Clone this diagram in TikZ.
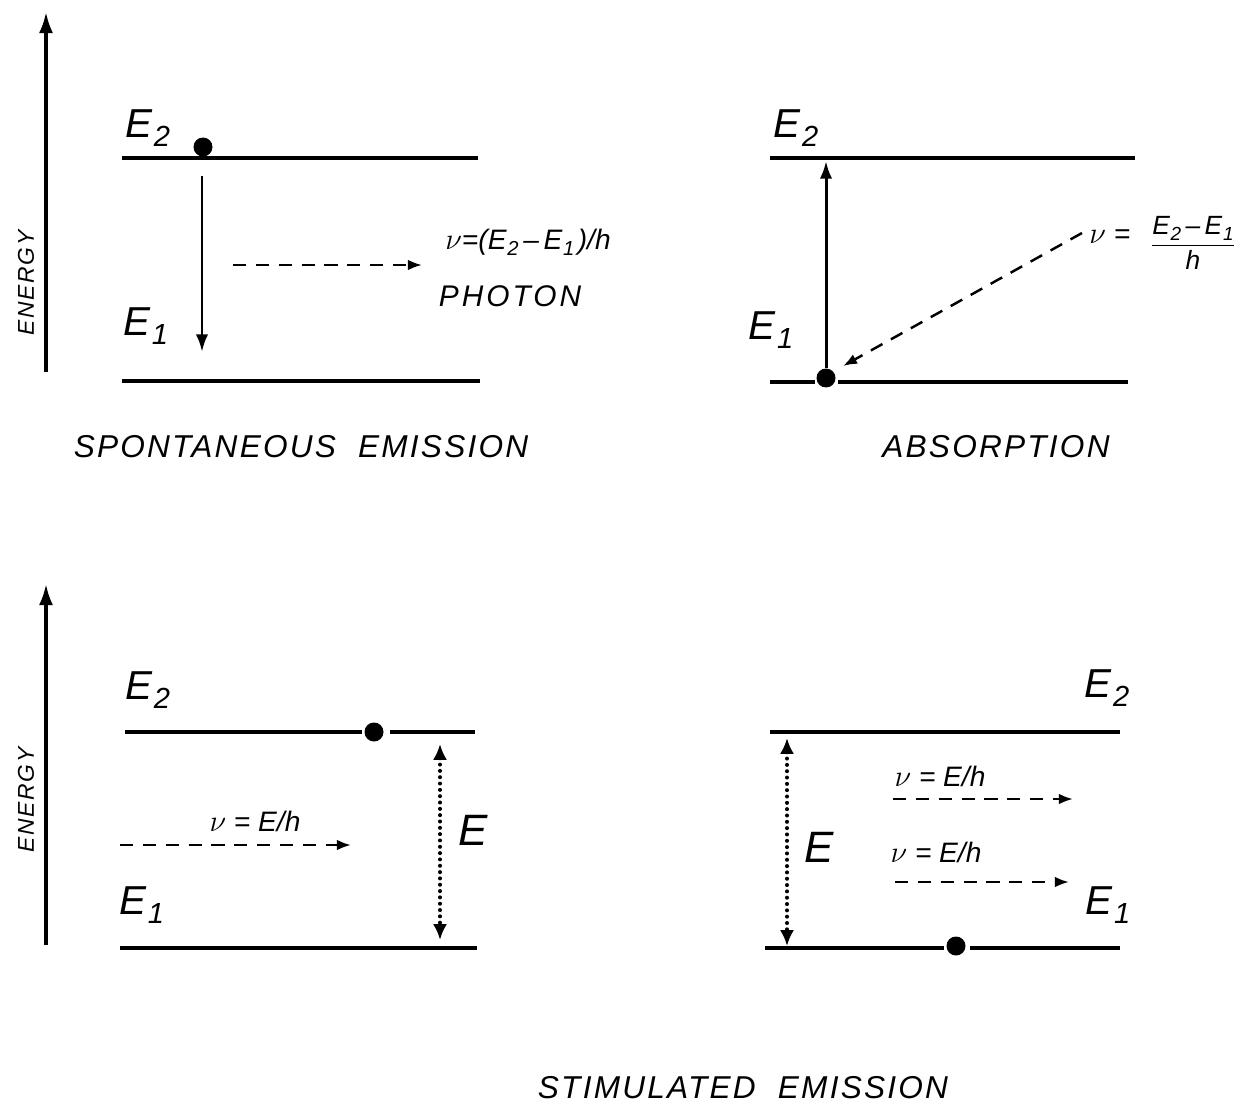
\documentclass[tikz,border=0pt]{standalone}
\usepackage{fontspec}
\setmainfont{Liberation Sans}
\usetikzlibrary{arrows.meta, positioning}

% level symbol with a lowered index
\newcommand{\elev}[1]{E\kern0.03em\raisebox{-0.4ex}{\scalebox{0.72}{#1}}}

\begin{document}
\begin{tikzpicture}[x=0.02cm, y=-0.02cm,
  level/.style={line width=1.9pt},
  axis/.style={line width=1.9pt, -{Latex[length=12pt,width=8pt]}},
  trans/.style={line width=1.7pt, -{Latex[length=10pt,width=7pt]}},
  photon/.style={line width=1.4pt, dash pattern=on 7.5pt off 5.5pt, -{Latex[length=8pt,width=6pt]}},
  gap/.style={line width=2.3pt, line cap=round, dash pattern=on 0pt off 3.6pt,
    {Latex[length=9pt,width=8pt]}-{Latex[length=9pt,width=8pt]}},
  electron/.style={circle, fill, inner sep=0pt, minimum size=0.38cm},
  lvlname/.style={font=\fontsize{23}{23}\selectfont\itshape, inner sep=0pt},
  gapname/.style={font=\fontsize{25}{25}\selectfont\itshape, inner sep=0pt},
  freq/.style={font=\fontsize{16}{16}\selectfont\itshape, inner sep=0pt},
  axisname/.style={font=\fontsize{13}{13}\selectfont\itshape\addfontfeatures{LetterSpace=8}, rotate=90, inner sep=0pt},
  caption/.style={font=\fontsize{18}{18}\selectfont\itshape\addfontfeatures{LetterSpace=7}, inner sep=0pt}]
  \useasboundingbox (0,0) rectangle (1251,1108);

  % Spontaneous emission
  \coordinate (se-axis0) at (46,372);
  \coordinate (se-axis1) at (46,12);
  \draw[axis] (se-axis0) -- (se-axis1);
  \node[axisname] (se-energy) at (26,283) {ENERGY};
  \draw[level] (122,158) -- (478,158);
  \draw[level] (122,381) -- (480,381);
  \node[lvlname] (se-e2) at (148,128) {\elev{2}};
  \node[lvlname] (se-e1) at (146,326) {\elev{1}};
  \node[electron] (se-atom) at (203,147) {};
  \coordinate (se-top) at (202,176);
  \coordinate (se-bot) at (202,352);
  \draw[trans] (se-top) -- (se-bot);
  \coordinate (se-ph0) at (233,265);
  \coordinate (se-ph1) at (422,265);
  \draw[photon] (se-ph0) -- (se-ph1);
  \node[freq] (se-nu) at (528,242) {$\nu$=(\elev{2}\,–\,\elev{1}\kern0.12em)/h};
  \node[freq, font=\fontsize{17}{17}\selectfont\itshape\addfontfeatures{LetterSpace=10}] (se-photon) at (510,296) {PHOTON};
  \node[caption] (se-caption) at (301,447) {SPONTANEOUS\hspace{0.35em} EMISSION};

  % Absorption
  \draw[level] (770,158) -- (1135,158);
  \draw[level] (770,382) -- (815,382);
  \draw[level] (838,382) -- (1128,382);
  \node[lvlname] (ab-e2) at (796,128) {\elev{2}};
  \node[lvlname] (ab-e1) at (771,330) {\elev{1}};
  \node[electron] (ab-atom) at (826,378) {};
  \coordinate (ab-top) at (826,161);
  \draw[trans] (ab-atom) -- (ab-top);
  \coordinate (ab-ph0) at (1082,233);
  \coordinate (ab-ph1) at (843,366);
  \draw[photon] (ab-ph0) -- (ab-ph1);
  \node[freq, anchor=west] (ab-nu) at (1089,237) {$\nu$ =};
  \node[freq, font=\fontsize{15}{15}\selectfont\itshape] (ab-frac) at (1193,243)
    {$\displaystyle\frac{\mbox{\elev{2}\,–\,\elev{1}}}{\mbox{\itshape h}}$};
  \node[caption] (ab-caption) at (996,447) {ABSORPTION};

  % Stimulated emission, before
  \coordinate (st-axis0) at (46,945);
  \coordinate (st-axis1) at (46,584);
  \draw[axis] (st-axis0) -- (st-axis1);
  \node[axisname] (st-energy) at (26,800) {ENERGY};
  \draw[level] (125,732) -- (362,732);
  \draw[level] (390,732) -- (475,732);
  \draw[level] (120,948) -- (477,948);
  \node[lvlname] (sa-e2) at (148,690) {\elev{2}};
  \node[lvlname] (sa-e1) at (142,905) {\elev{1}};
  \node[electron] (sa-atom) at (374,732) {};
  \coordinate (sa-top) at (440,744);
  \coordinate (sa-bot) at (440,940);
  \draw[gap] (sa-top) -- (sa-bot);
  \node[gapname] (sa-e) at (473,830) {E};
  \coordinate (sa-ph0) at (120,845);
  \coordinate (sa-ph1) at (351,845);
  \draw[photon] (sa-ph0) -- (sa-ph1);
  \node[freq] (sa-nu) at (255,821) {$\nu$ = E/h};

  % Stimulated emission, after
  \draw[level] (770,732) -- (1120,732);
  \draw[level] (765,948) -- (944,948);
  \draw[level] (970,948) -- (1120,948);
  \node[lvlname] (sb-e2) at (1107,688) {\elev{2}};
  \node[lvlname] (sb-e1) at (1108,905) {\elev{1}};
  \node[electron] (sb-atom) at (956,946) {};
  \coordinate (sb-top) at (787,738);
  \coordinate (sb-bot) at (787,946);
  \draw[gap] (sb-top) -- (sb-bot);
  \node[gapname] (sb-e) at (819,847) {E};
  \coordinate (sb-ph0) at (893,799);
  \coordinate (sb-ph1) at (1073,799);
  \draw[photon] (sb-ph0) -- (sb-ph1);
  \node[freq] (sb-nu1) at (940,776) {$\nu$ = E/h};
  \coordinate (sb-ph2) at (895,882);
  \coordinate (sb-ph3) at (1069,882);
  \draw[photon] (sb-ph2) -- (sb-ph3);
  \node[freq] (sb-nu2) at (936,852) {$\nu$ = E/h};
  \node[caption] (st-caption) at (743,1088) {STIMULATED\hspace{0.35em} EMISSION};
\end{tikzpicture}
\end{document}
